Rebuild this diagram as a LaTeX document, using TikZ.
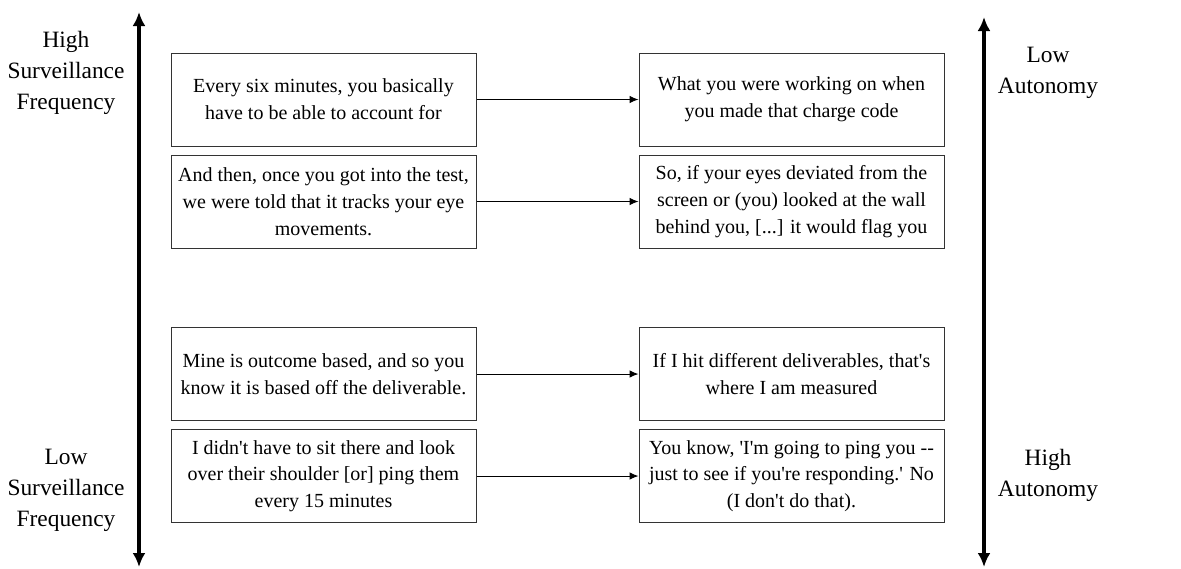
\documentclass[tikz,border=0pt]{standalone}
\usepackage{fontspec}
\setmainfont{Liberation Serif}
\usetikzlibrary{arrows.meta}

\tikzset{
    quote/.style={draw=black!80, line width=0.5pt, minimum width=152.5pt, minimum height=46.5pt,
        inner sep=0pt, align=center, font=\fontsize{10}{13.35}\selectfont},
    axislabel/.style={align=center, font=\fontsize{11.7}{15.5}\selectfont},
    link/.style={-{Latex[length=4.5pt,width=3.8pt]}, line width=0.5pt},
    axis/.style={{Latex[length=7pt,width=6.5pt]}-{Latex[length=7pt,width=6.5pt]}, line width=1.6pt}
}
\newcommand{\sq}{\textquotesingle}

\begin{document}
\begin{tikzpicture}[x=0.5pt, y=-0.5pt]
    \useasboundingbox (0, 0) rectangle (1181, 568);

    \def\xl{323.5};
    \def\xr{791.5};

    \def\ya{99.5};
    \def\yb{201.5};
    \def\yc{374};
    \def\yd{476};

% surveillance axis
    \coordinate (survtop) at (139, 12);
    \coordinate (survbot) at (139, 567);
    \draw[axis] (survtop) -- (survbot);
    \node[axislabel] (highsurv) at (66, 73) {High\\Surveillance\\Frequency};
    \node[axislabel] (lowsurv) at (66, 490) {Low\\Surveillance\\Frequency};

% autonomy axis
    \coordinate (autotop) at (984, 17);
    \coordinate (autobot) at (984, 567);
    \draw[axis] (autotop) -- (autobot);
    \node[axislabel] (lowauto) at (1048, 72.5) {Low\\Autonomy};
    \node[axislabel] (highauto) at (1048, 475.5) {High\\Autonomy};

% quotes, left column
    \node[quote] (sixmin) at (\xl, \ya) {Every six minutes, you basically\\have to be able to account for};
    \node[quote] (test) at (\xl, \yb) {And then, once you got into the test,\\we were told that it tracks your eye\\movements.};
    \node[quote] (outcome) at (\xl, \yc) {Mine is outcome based, and so you\\know it is based off the deliverable.};
    \node[quote] (shoulder) at (\xl, \yd) {I didn\sq t have to sit there and look\\over their shoulder [or] ping them\\every 15 minutes};

% quotes, right column
    \node[quote] (charge) at (\xr, \ya) {What you were working on when\\you made that charge code};
    \node[quote] (eyes) at (\xr, \yb) {So, if your eyes deviated from the\\screen or (you) looked at the wall\\behind you, [...] it would flag you};
    \node[quote] (deliver) at (\xr, \yc) {If I hit different deliverables, that\sq s\\where I am measured};
    \node[quote] (ping) at (\xr, \yd) {You know, \sq I\sq m going to ping you -{}-\\just to see if you\sq re responding.\sq{} No\\(I don\sq t do that).};

    \draw[link] (sixmin) -- (charge);
    \draw[link] (test) -- (eyes);
    \draw[link] (outcome) -- (deliver);
    \draw[link] (shoulder) -- (ping);

\end{tikzpicture}
\end{document}
